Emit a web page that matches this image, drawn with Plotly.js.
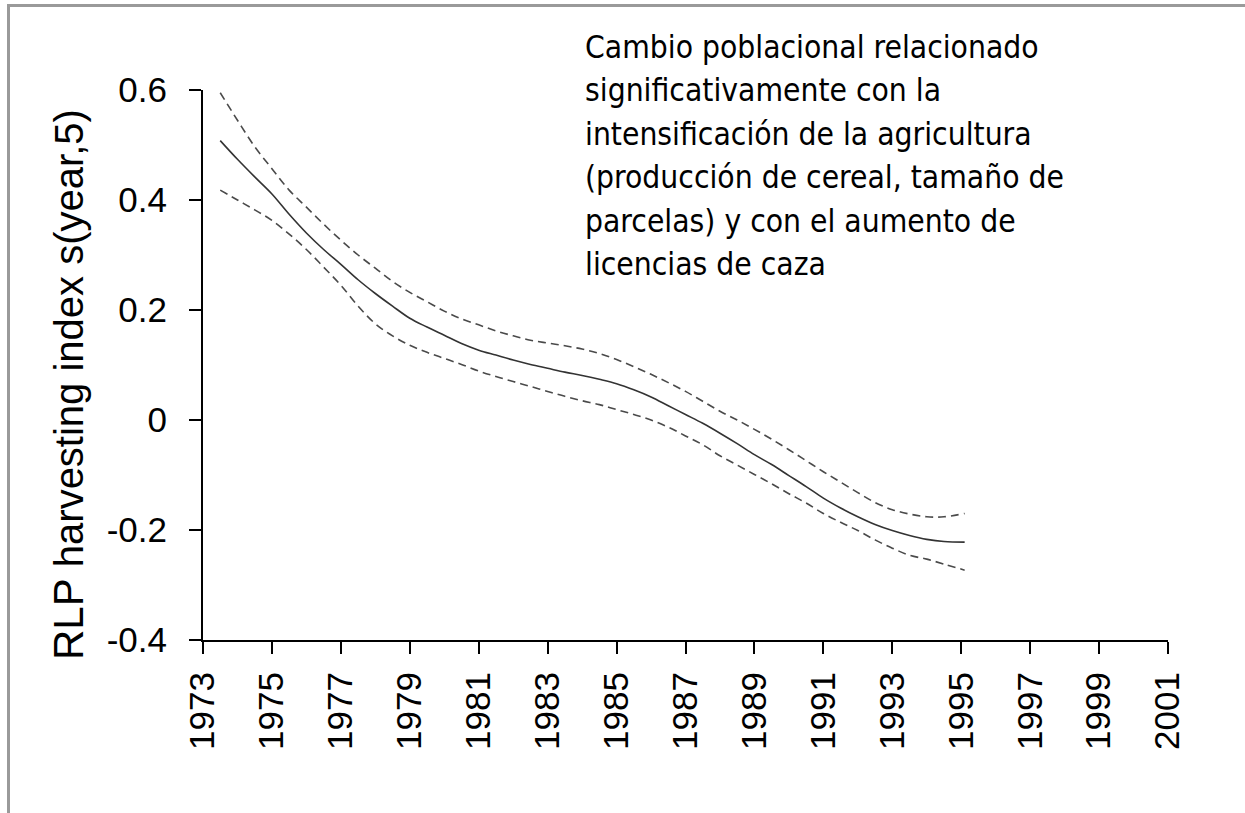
<!DOCTYPE html>
<html>
<head>
<meta charset="utf-8">
<script src="https://cdn.plot.ly/plotly-3.0.1.min.js"></script>
<style>
  html, body { margin: 0; padding: 0; background: #fff; }
  #wrap { position: relative; width: 1245px; height: 813px; overflow: hidden; }
  #chart { position: absolute; left: 0; top: 0; width: 1245px; height: 813px; }
  #frameL { position: absolute; left: 7px; top: 4px; width: 3px; height: 809px; background: #9a9a9a; pointer-events: none; }
  #frameT { position: absolute; left: 7px; top: 4px; width: 1238px; height: 3px; background: #9a9a9a; pointer-events: none; }
</style>
</head>
<body>
<div id="wrap">
  <div id="chart"></div>
  <div id="frameL"></div>
  <div id="frameT"></div>
</div>
<script>
// ---- data ----
const years = [1973.5,1974,1974.5,1975,1975.5,1976,1976.5,1977,1977.5,1978,1978.5,1979,1979.5,1980,1980.5,1981,1981.5,1982,1982.5,1983,1983.5,1984,1984.5,1985,1985.5,1986,1986.5,1987,1987.5,1988,1988.5,1989,1989.5,1990,1990.5,1991,1991.5,1992,1992.5,1993,1993.5,1994,1994.5,1995.1];
const fitValues = [0.508,0.474,0.442,0.411,0.374,0.340,0.310,0.283,0.255,0.230,0.207,0.185,0.169,0.154,0.139,0.127,0.118,0.109,0.101,0.094,0.087,0.081,0.074,0.066,0.055,0.042,0.026,0.010,-0.006,-0.024,-0.043,-0.063,-0.081,-0.101,-0.121,-0.142,-0.160,-0.176,-0.190,-0.201,-0.210,-0.217,-0.221,-0.222];
const upperValues = [0.595,0.545,0.497,0.457,0.418,0.387,0.356,0.327,0.300,0.276,0.252,0.232,0.215,0.198,0.184,0.173,0.162,0.153,0.145,0.140,0.135,0.129,0.121,0.110,0.097,0.083,0.068,0.052,0.034,0.016,0.000,-0.017,-0.035,-0.054,-0.074,-0.094,-0.113,-0.132,-0.150,-0.163,-0.171,-0.176,-0.176,-0.170];
const lowerValues = [0.418,0.400,0.382,0.363,0.338,0.310,0.278,0.245,0.207,0.175,0.153,0.136,0.123,0.112,0.101,0.089,0.079,0.070,0.061,0.052,0.043,0.035,0.028,0.019,0.010,0.000,-0.013,-0.029,-0.045,-0.065,-0.082,-0.099,-0.116,-0.134,-0.151,-0.170,-0.186,-0.201,-0.218,-0.233,-0.246,-0.253,-0.262,-0.273];

const xTickVals = [1973,1975,1977,1979,1981,1983,1985,1987,1989,1991,1993,1995,1997,1999,2001];
const xTickText = ["1973","1975","1977","1979","1981","1983","1985","1987","1989","1991","1993","1995","1997","1999","2001"];
const yTickVals = [0.6,0.4,0.2,0,-0.2,-0.4];
const yTickText = ["0.6","0.4","0.2","0","-0.2","-0.4"];

const yTitle = '<span style="font-size:42px">RLP</span> harvesting index s(year,5)';
const noteLines = [
  "Cambio poblacional relacionado",
  "significativamente con la",
  "intensificación de la agricultura",
  "(producción de cereal, tamaño de",
  "parcelas) y con el aumento de",
  "licencias de caza"
];

// ---- layout helpers ----
const W = 1245, H = 813;
const M = {l: 203, r: 77, t: 90, b: 173};
const PW = W - M.l - M.r, PH = H - M.t - M.b;
const px2paperX = px => (px - M.l) / PW;
const px2paperY = py => (H - M.b - py) / PH;

const tickFont = {family: 'Liberation Sans, Arial, sans-serif', size: 35, color: '#000'};

const traces = [
  {x: years, y: upperValues, type: 'scatter', mode: 'lines',
   line: {color: '#4a4a4a', width: 1.6, dash: '8px,5px', shape: 'spline'}, hoverinfo: 'skip'},
  {x: years, y: lowerValues, type: 'scatter', mode: 'lines',
   line: {color: '#4a4a4a', width: 1.6, dash: '8px,5px', shape: 'spline'}, hoverinfo: 'skip'},
  {x: years, y: fitValues, type: 'scatter', mode: 'lines',
   line: {color: '#333', width: 1.6, shape: 'spline'}, hoverinfo: 'skip'}
];

const annotations = noteLines.map((t, i) => ({
  text: t, xref: 'paper', yref: 'paper',
  x: px2paperX(583), y: px2paperY(47 + i * 43.4),
  xanchor: 'left', yanchor: 'middle', showarrow: false, align: 'left',
  font: {family: 'DejaVu Sans Condensed, DejaVu Sans, Verdana, sans-serif', size: 31.5, color: '#000', stretch: 'condensed'}
}));
annotations.push({
  text: yTitle, xref: 'paper', yref: 'paper',
  x: px2paperX(68), y: px2paperY(385), textangle: -90,
  xanchor: 'center', yanchor: 'middle', showarrow: false,
  font: {family: 'Liberation Sans, Arial, sans-serif', size: 40, color: '#000'}
});

const layout = {
  width: W, height: H,
  margin: {l: M.l, r: M.r, t: M.t, b: M.b, pad: 0},
  paper_bgcolor: '#fff', plot_bgcolor: '#fff',
  showlegend: false,
  xaxis: {
    range: [1973, 2001], tickmode: 'array', tickvals: xTickVals, ticktext: xTickText,
    tickangle: -90, ticks: 'outside', ticklen: 12, tickwidth: 2, tickcolor: '#000',
    showline: true, linewidth: 2, linecolor: '#000', showgrid: false, zeroline: false,
    tickfont: tickFont, ticklabelstandoff: 4, fixedrange: true
  },
  yaxis: {
    range: [-0.4, 0.6], tickmode: 'array', tickvals: yTickVals, ticktext: yTickText,
    ticks: 'outside', ticklen: 12, tickwidth: 2, tickcolor: '#000',
    showline: true, linewidth: 2, linecolor: '#000', showgrid: false, zeroline: false,
    tickfont: tickFont, ticklabelstandoff: 15, fixedrange: true
  },
  annotations: annotations
};

Plotly.newPlot('chart', traces, layout, {staticPlot: true, displayModeBar: false});
</script>
</body>
</html>
